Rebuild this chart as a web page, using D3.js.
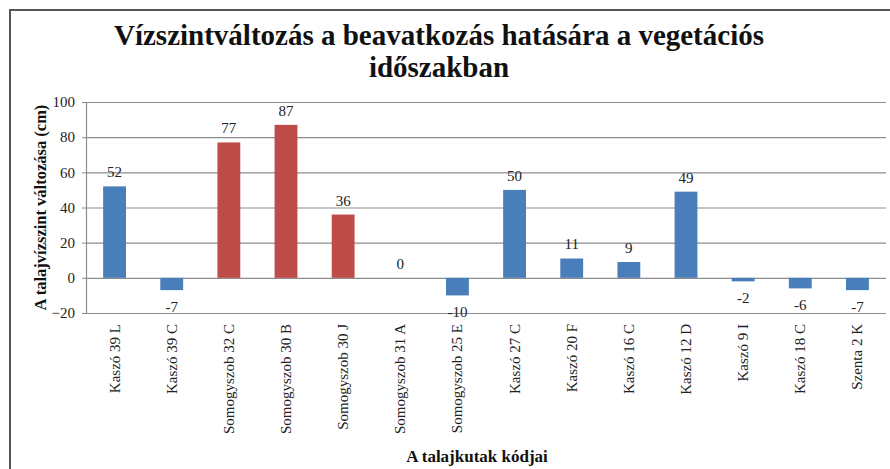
<!DOCTYPE html>
<html>
<head>
<meta charset="utf-8">
<script src="https://cdn.jsdelivr.net/npm/d3@7"></script>
<style>
  body { margin: 0; background: #fff; }
  svg text { font-family: "Liberation Serif", "Times New Roman", serif !important; }
</style>
</head>
<body>
<svg id="chart" width="890" height="469"></svg>
<script>
  const categories = ['Kaszó 39 L', 'Kaszó 39 C', 'Somogyszob 32 C', 'Somogyszob 30 B', 'Somogyszob 30 J',
    'Somogyszob 31 A', 'Somogyszob 25 E', 'Kaszó 27 C', 'Kaszó 20 F', 'Kaszó 16 C', 'Kaszó 12 D',
    'Kaszó 9 I', 'Kaszó 18 C', 'Szenta 2 K'];
  const values = [52, -7, 77, 87, 36, 0, -10, 50, 11, 9, 49, -2, -6, -7];
  const groups = ['b', 'b', 'r', 'r', 'r', 'r', 'b', 'b', 'b', 'b', 'b', 'b', 'b', 'b'];
  const yTicks = [-20, 0, 20, 40, 60, 80, 100];

  const colors = { b: '#4a7ebb', r: '#be4b48' };
  const padding = { top: 102, right: 4, bottom: 156, left: 86 };

  let svg = d3.select('#chart'),
    width = +svg.attr('width'),
    height = +svg.attr('height');
  let chartArea = {
    width: width - padding.left - padding.right,
    height: height - padding.top - padding.bottom
  };

  // frame
  svg.append('path')
    .attr('d', `M10,${height} V10 H${width}`)
    .attr('fill', 'none')
    .attr('stroke', '#555')
    .attr('stroke-width', 2);

  // title
  let title = svg.append('text')
    .attr('text-anchor', 'middle')
    .attr('font-size', '29px')
    .attr('font-weight', 'bold')
    .attr('fill', '#111');
  title.append('tspan').attr('x', 439).attr('y', 45).text('Vízszintváltozás a beavatkozás hatására a vegetációs');
  title.append('tspan').attr('x', 439).attr('y', 77).text('időszakban');

  let yScale = d3.scaleLinear()
    .domain([-20, 100])
    .range([chartArea.height, 0]);

  let xScale = d3.scaleBand()
    .domain(categories)
    .range([0, chartArea.width])
    .paddingInner(0.6)
    .paddingOuter(0.3);

  let g = svg.append('g')
    .attr('transform', `translate(${padding.left}, ${padding.top})`);

  // grid
  g.append('g')
    .attr('class', 'grid')
    .call(d3.axisLeft(yScale).tickValues(yTicks).tickSize(-chartArea.width).tickFormat(''))
    .call(s => s.select('.domain').remove())
    .call(s => s.selectAll('line').attr('stroke', '#8c8c8c').attr('stroke-width', 1.2));

  // y axis
  let yAxis = g.append('g')
    .call(d3.axisLeft(yScale).tickValues(yTicks).tickSize(4).tickPadding(7));
  yAxis.select('.domain').attr('stroke', '#8c8c8c').attr('stroke-width', 1.2);
  yAxis.selectAll('line').attr('stroke', '#8c8c8c');
  yAxis.selectAll('text')
    .attr('font-size', '15px')
    .attr('fill', '#222');

  // bars
  g.selectAll('rect')
    .data(values)
    .enter()
    .append('rect')
    .attr('x', (d, i) => xScale(categories[i]))
    .attr('width', xScale.bandwidth())
    .attr('y', d => yScale(Math.max(0, d)))
    .attr('height', d => Math.abs(yScale(d) - yScale(0)))
    .attr('fill', (d, i) => colors[groups[i]]);

  // value labels
  g.selectAll('.val')
    .data(values)
    .enter()
    .append('text')
    .attr('class', 'val')
    .attr('text-anchor', 'middle')
    .attr('font-size', '15px')
    .attr('fill', '#222')
    .attr('x', (d, i) => xScale(categories[i]) + xScale.bandwidth() / 2)
    .attr('y', d => d < 0 ? yScale(d) + 22 : yScale(d) - 9)
    .text(d => d);

  // category labels
  g.selectAll('.cat')
    .data(categories)
    .enter()
    .append('text')
    .attr('class', 'cat')
    .attr('text-anchor', 'end')
    .attr('font-size', '15px')
    .attr('fill', '#222')
    .attr('transform', d => `translate(${xScale(d) + xScale.bandwidth() / 2 + 5}, ${chartArea.height + 11}) rotate(-90)`)
    .text(d => d);

  // axis titles
  svg.append('text')
    .attr('text-anchor', 'middle')
    .attr('font-size', '16.5px')
    .attr('font-weight', 'bold')
    .attr('fill', '#111')
    .attr('transform', `translate(46, ${padding.top + chartArea.height / 2}) rotate(-90)`)
    .text('A talajvízszint változása (cm)');

  svg.append('text')
    .attr('text-anchor', 'middle')
    .attr('font-size', '17px')
    .attr('font-weight', 'bold')
    .attr('fill', '#111')
    .attr('x', 477)
    .attr('y', 462)
    .text('A talajkutak kódjai');
</script>
</body>
</html>
